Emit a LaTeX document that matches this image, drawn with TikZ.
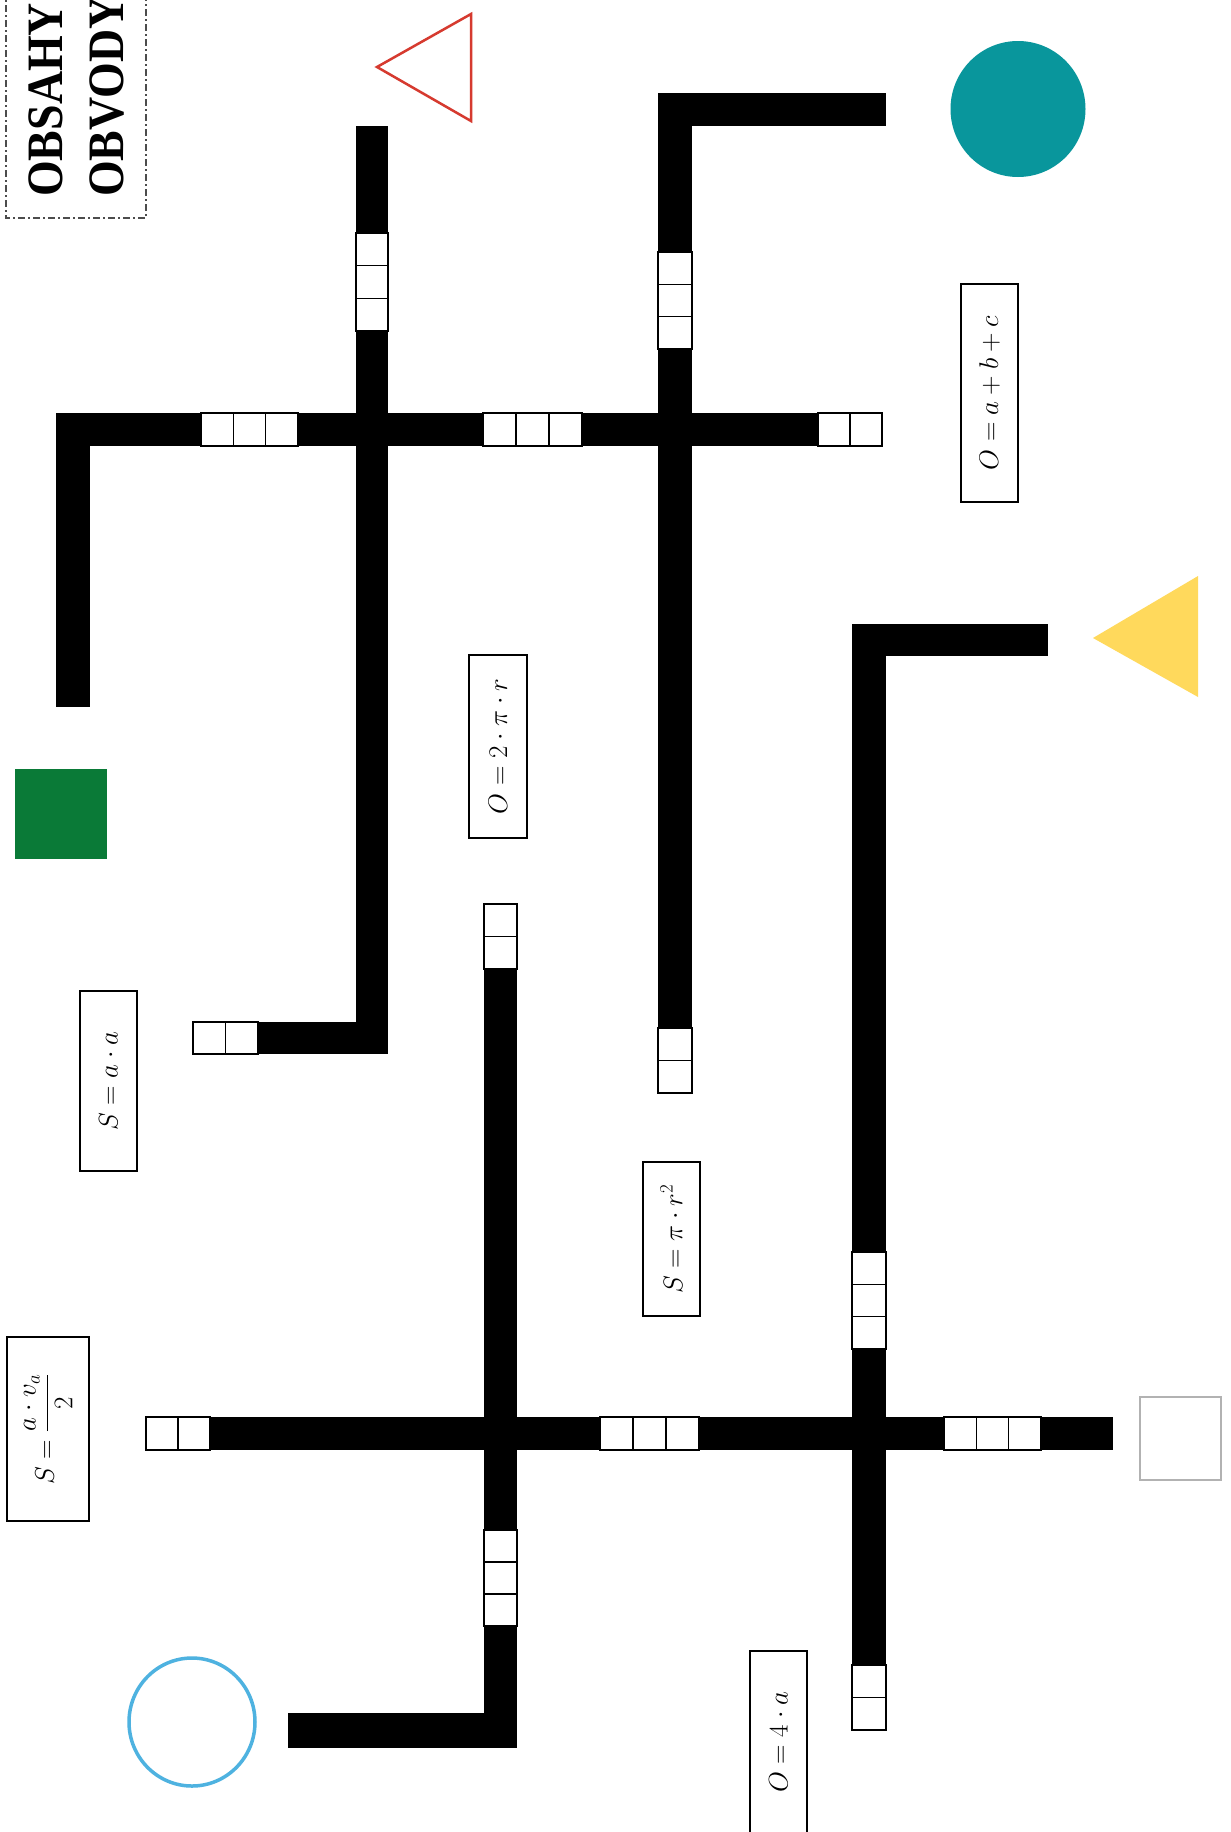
\RequirePackage{fix-cm}
\documentclass[tikz,border=0pt]{standalone}
\usepackage{fontspec}
\newfontfamily\titlefont{Liberation Serif}
\definecolor{tealc}{RGB}{9,150,156}
\definecolor{greenc}{RGB}{10,122,55}
\definecolor{bluec}{RGB}{78,178,224}
\definecolor{redc}{RGB}{214,58,47}
\definecolor{yellowc}{RGB}{255,217,92}
\tikzset{
  bar/.style={fill=black},
  cellbox/.style={draw=black, fill=white, line width=1.3pt},
  formula/.style={draw=black, line width=1.5pt, fill=white, rotate=90, inner sep=0pt,
    font=\fontsize{27}{32}\selectfont},
  titletext/.style={rotate=90, xscale=0.9, anchor=base west, inner sep=0pt,
    font=\titlefont\bfseries\fontsize{51}{56}\selectfont}
}
\newcommand\cellsH[5]{%
  \pgfmathsetmacro\mycw{(#2-#1)/#5}%
  \foreach \k in {1,...,#5}{\draw[cellbox] ({#1+(\k-1)*\mycw},#3) rectangle ({#1+\k*\mycw},#4);}%
}
\newcommand\cellsV[5]{%
  \pgfmathsetmacro\mycw{(#4-#3)/#5}%
  \foreach \k in {1,...,#5}{\draw[cellbox] (#1,{#3+(\k-1)*\mycw}) rectangle (#2,{#3+\k*\mycw});}%
}
\begin{document}
\begin{tikzpicture}[x=1pt,y=-1pt]
\useasboundingbox (0,0) rectangle (1231,1832);
\fill[white] (0,0) rectangle (1231,1832);
% title box
\draw[gray!60!black, line width=1.5pt, dash pattern=on 7pt off 3pt on 2pt off 3pt]
  (6,-10) -- (6,218) -- (146,218) -- (146,-10);
\node[titletext] (t1) at (62,197) {OBSAHY};
\node[titletext] (t2) at (123,197) {OBVODY};
% ---- top maze part ----
\fill[bar] (56,413) rectangle (882,446);
\fill[bar] (56,413) rectangle (90,707);
\fill[bar] (356,126) rectangle (388,1054);
\fill[bar] (193,1022) rectangle (388,1054);
\fill[bar] (658,93) rectangle (692,1093);
\fill[bar] (658,93) rectangle (886,126);
\cellsH{201}{298}{413}{446}{3}
\cellsH{483}{582}{413}{446}{3}
\cellsH{818}{882}{413}{446}{2}
\cellsV{356}{388}{233}{331}{3}
\cellsH{193}{258}{1022}{1054}{2}
\cellsV{658}{692}{252}{349}{3}
\cellsV{658}{692}{1028}{1093}{2}
% ---- bottom maze part ----
\fill[bar] (146,1417) rectangle (1113,1450);
\fill[bar] (484,904) rectangle (517,1748);
\fill[bar] (288,1713) rectangle (517,1748);
\fill[bar] (852,624) rectangle (886,1730);
\fill[bar] (852,624) rectangle (1048,656);
\cellsH{146}{210}{1417}{1450}{2}
\cellsH{600}{699}{1417}{1450}{3}
\cellsH{944}{1041}{1417}{1450}{3}
\cellsV{484}{517}{904}{969}{2}
\cellsV{484}{517}{1530}{1626}{3}
\cellsV{852}{886}{1252}{1349}{3}
\cellsV{852}{886}{1665}{1730}{2}
% ---- shapes ----
\draw[redc, line width=2.5pt, line join=miter] (377,67) -- (471,14) -- (471,121) -- cycle;
\fill[tealc] (1018,109) ellipse [x radius=67.5, y radius=68];
\fill[yellowc] (1093,638) -- (1198,576) -- (1198,697) -- cycle;
\fill[greenc] (15,769) rectangle (107,859);
\draw[bluec, line width=3.5pt] (192,1722) ellipse [x radius=63, y radius=64];
\draw[gray!60, line width=1.2pt] (1140,1397) rectangle (1221,1480);
% ---- formulas ----
\node[formula, minimum width=218pt, minimum height=57pt] (f1) at (989.5,393) {$O=a+b+c$};
\node[formula, minimum width=183pt, minimum height=58pt] (f2) at (498,746.5) {$O=2\cdot\pi\cdot r$};
\node[formula, minimum width=180pt, minimum height=57pt] (f3) at (108.5,1081) {$S=a\cdot a$};
\node[formula, minimum width=154pt, minimum height=57pt] (f4) at (671.5,1239) {$S=\pi\cdot r^2$};
\node[formula, minimum width=184pt, minimum height=82pt] (f5) at (48,1429) {$\displaystyle S=\frac{a\cdot v_a}{2}$};
\node[formula, minimum width=182pt, minimum height=57pt] (f6) at (778.5,1742) {$O=4\cdot a$};
\end{tikzpicture}
\end{document}
